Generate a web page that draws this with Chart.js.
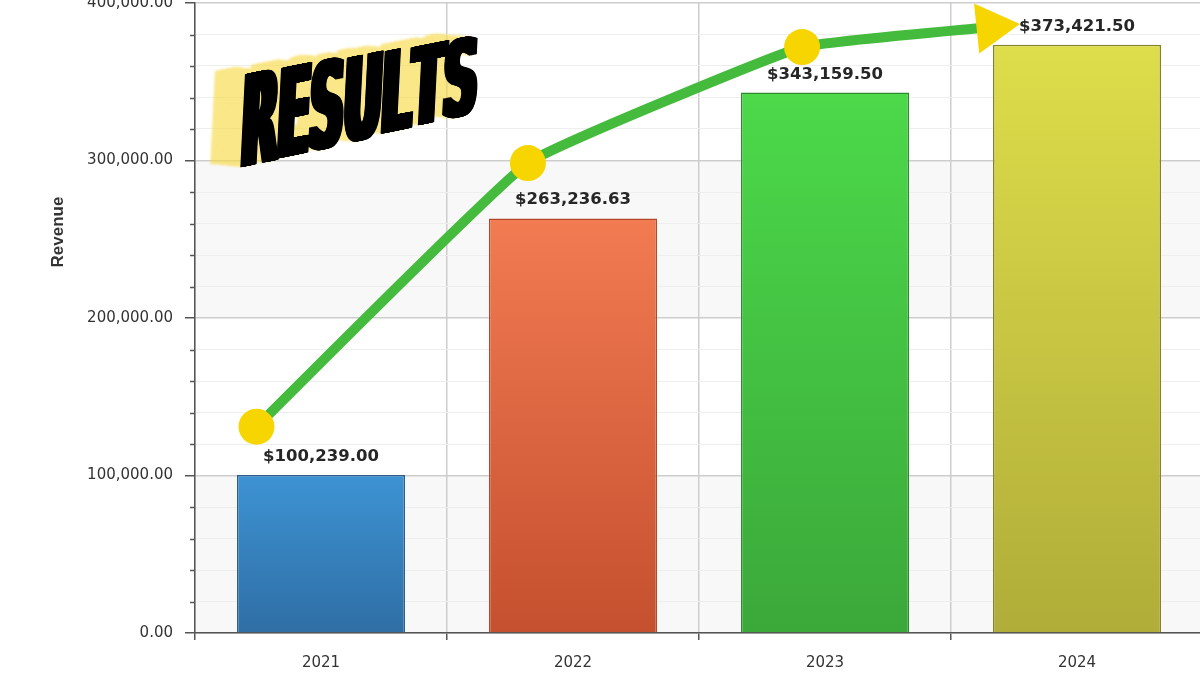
<!DOCTYPE html>
<html>
<head>
<meta charset="utf-8">
<script src="https://cdn.jsdelivr.net/npm/chart.js@4/dist/chart.umd.min.js"></script>
<style>
  html, body { margin: 0; padding: 0; background: #fff; overflow: hidden; width: 1200px; height: 675px; }
  #wrap { position: absolute; left: 0; top: -30px; width: 1208px; height: 705px; }
</style>
</head>
<body>
<div id="wrap"><canvas id="chart"></canvas></div>
<script>
// Yearly revenue
const years = ['2021', '2022', '2023', '2024'];
const revenue = [100239.00, 263236.63, 343159.50, 373421.50];

// Bar colours (top of gradient, bottom of gradient, outline)
const barTop = ['#3d93d3', '#f27b52', '#4cd94a', '#dedd4a'];
const barBottom = ['#2f6ea5', '#c5502f', '#3ba83a', '#b0ad39'];
const barEdge = ['#2d5f8c', '#b04a2a', '#2f8a2f', '#86822a'];

// Growth arrow: position along the year axis (0 = 2021) and revenue level
const trendPos = [-0.256, 0.821, 1.909, 2.659];
const trendLevel = [131000, 298400, 372000, 384800];

// Value axis
const yMin = 0;
const yMax = 400000;
const yMinorStep = 20000;
const yMajorStep = 100000;

const FONT = '"DejaVu Sans", Verdana, sans-serif';

const num2 = v => v.toLocaleString('en-US', { minimumFractionDigits: 2, maximumFractionDigits: 2 });
const money = v => '$' + num2(v);
const isMajor = v => Math.abs(v % yMajorStep) < 1e-6;

function barFill(c) {
  const chart = c.chart, i = c.dataIndex;
  const ys = chart.scales.y;
  if (!ys || !chart.chartArea) return barTop[i];
  const top = ys.getPixelForValue(revenue[i]);
  const bottom = ys.getPixelForValue(0);
  const g = chart.ctx.createLinearGradient(0, top, 0, bottom);
  g.addColorStop(0, barTop[i]);
  g.addColorStop(1, barBottom[i]);
  return g;
}

// Alternating light bands between the major value lines
const bandPlugin = {
  id: 'bands',
  beforeDraw(chart) {
    const { ctx, chartArea: a, scales: { y } } = chart;
    ctx.save();
    ctx.fillStyle = '#f8f8f8';
    for (let v = yMin, k = 0; v < yMax; v += yMajorStep, k++) {
      if (k % 2) continue;
      const y0 = y.getPixelForValue(v + yMajorStep), y1 = y.getPixelForValue(v);
      ctx.fillRect(a.left, y0, a.right - a.left, y1 - y0);
    }
    ctx.restore();
  }
};

// Dollar amounts above each bar (drawn beneath the arrow)
const valuePlugin = {
  id: 'barValues',
  afterDatasetDraw(chart, args) {
    if (args.meta.type !== 'bar') return;
    const ctx = chart.ctx;
    ctx.save();
    ctx.font = 'bold 16.5px ' + FONT;
    ctx.fillStyle = '#262626';
    ctx.textAlign = 'center';
    ctx.textBaseline = 'alphabetic';
    args.meta.data.forEach((bar, i) => ctx.fillText(money(revenue[i]), bar.x, bar.y - 14));
    ctx.restore();
  }
};

// Headline word, condensed and set in slight perspective (letters shrink to the right)
function drawWord(c, ox, oy, color, spread) {
  const letters = 'RESULTS'.split('');
  c.save();
  c.font = 'bold 100px "DejaVu Sans"';
  c.textBaseline = 'alphabetic';
  c.fillStyle = color;
  let adv = 0;
  letters.forEach((ch, i) => {
    const t = i / (letters.length - 1);
    const sy = (93 - 16 * t) / 72.9;
    c.save();
    c.translate(236 + ox + adv, 198 + oy - 0.238 * adv);
    c.transform(1, -0.2, -0.05, 1, 0, 0);
    c.scale(0.47, sy);
    for (let d = 0; d <= spread; d += 1) c.fillText(ch, d, 0);
    c.restore();
    adv += c.measureText(ch).width * 0.47;
  });
  c.restore();
}

// Minor tick marks, axis title and the headline word
const overlayPlugin = {
  id: 'overlay',
  afterDraw(chart) {
    const { ctx, scales: { y } } = chart;
    ctx.save();
    ctx.strokeStyle = '#555';
    ctx.lineWidth = 1.5;
    y.ticks.forEach(t => {
      if (isMajor(t.value)) return;
      const py = Math.round(y.getPixelForValue(t.value)) + 0.5;
      ctx.beginPath();
      ctx.moveTo(y.right - 5, py);
      ctx.lineTo(y.right, py);
      ctx.stroke();
    });
    ctx.restore();

    ctx.save();
    ctx.translate(58, 262);
    ctx.rotate(-Math.PI / 2);
    ctx.font = 'bold 17px "Liberation Sans", Arial, sans-serif';
    ctx.fillStyle = '#333';
    ctx.textAlign = 'center';
    ctx.textBaseline = 'middle';
    ctx.fillText('Revenue', 0, 0);
    ctx.restore();

    // yellow brushed highlight behind the word
    const off = document.createElement('canvas');
    off.width = chart.canvas.width;
    off.height = chart.canvas.height;
    const oc = off.getContext('2d');
    for (let ox = -30; ox <= -2; ox += 4) drawWord(oc, ox, ox * 0.1, '#f7d840', 12);
    ctx.save();
    ctx.globalAlpha = 0.62;
    ctx.filter = 'blur(1.2px)';
    ctx.drawImage(off, 0, 0);
    ctx.restore();

    drawWord(ctx, 0, 0, '#000', 16);
  }
};

new Chart(document.getElementById('chart'), {
  type: 'bar',
  data: {
    labels: years,
    datasets: [
      {
        type: 'line',
        data: trendPos.map((x, i) => ({ x, y: trendLevel[i] })),
        xAxisID: 'xTrend',
        yAxisID: 'y',
        borderColor: '#44bb3c',
        borderWidth: 10,
        borderCapStyle: 'round',
        borderJoinStyle: 'round',
        tension: 0.1,
        fill: false,
        clip: false,
        pointStyle: c => c.dataIndex === trendPos.length - 1 ? 'triangle' : 'circle',
        pointRadius: c => c.dataIndex === trendPos.length - 1 ? 29 : 18,
        pointRotation: c => c.dataIndex === trendPos.length - 1 ? 84 : 0,
        pointBackgroundColor: '#f6d500',
        pointBorderWidth: 0,
        order: 0
      },
      {
        type: 'bar',
        data: revenue,
        backgroundColor: barFill,
        borderColor: barEdge,
        borderWidth: 1.5,
        grouped: false,
        barPercentage: 0.667,
        categoryPercentage: 1,
        order: 1
      }
    ]
  },
  options: {
    responsive: true,
    maintainAspectRatio: false,
    animation: false,
    events: [],
    layout: { autoPadding: false, padding: { top: 33, right: 5, bottom: 0, left: 0 } },
    plugins: { legend: { display: false }, tooltip: { enabled: false } },
    scales: {
      x: {
        type: 'category',
        offset: true,
        grid: { offset: true, color: '#cdcdcd', lineWidth: 1.5, tickColor: '#555', tickLength: 7 },
        border: { color: '#555', width: 1.5 },
        ticks: { color: '#333', font: { family: FONT, size: 15 }, padding: 14 },
        afterFit: s => { s.height = 42; }
      },
      xTrend: { type: 'linear', min: -0.5, max: 3.5, offset: false, display: false },
      y: {
        min: yMin,
        max: yMax,
        ticks: {
          stepSize: yMinorStep,
          autoSkip: false,
          color: '#333',
          font: { family: FONT, size: 15 },
          padding: 12,
          callback: v => isMajor(v) ? num2(v) : ''
        },
        grid: {
          color: c => isMajor(c.tick.value) ? '#cdcdcd' : '#eeeeee',
          lineWidth: c => isMajor(c.tick.value) ? 1.5 : 1,
          tickColor: c => isMajor(c.tick.value) ? '#555' : 'rgba(0,0,0,0)',
          tickLength: 10
        },
        border: { color: '#555', width: 1.5 },
        afterFit: s => { s.width = 195; }
      }
    }
  },
  plugins: [bandPlugin, valuePlugin, overlayPlugin]
});
</script>
</body>
</html>
